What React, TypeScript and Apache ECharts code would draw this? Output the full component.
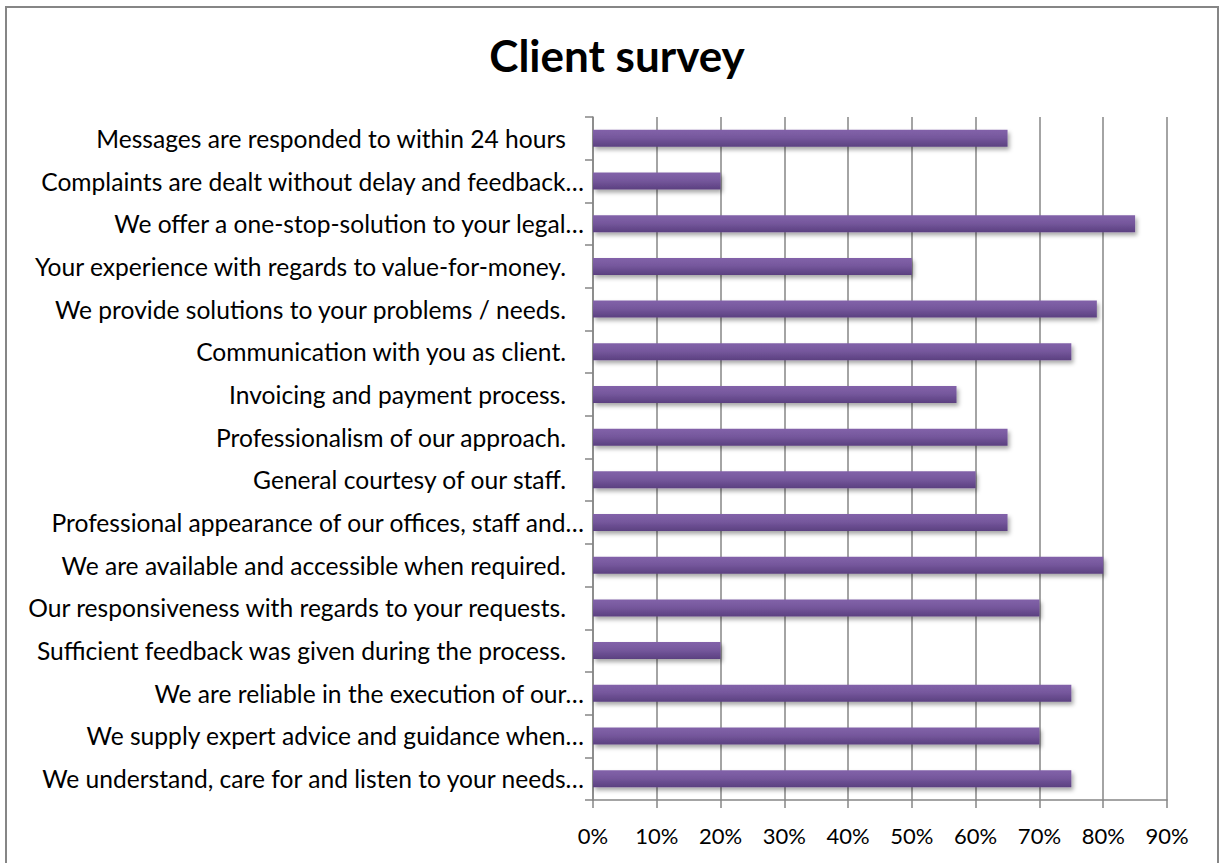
import React, { useEffect, useRef } from "react";
import * as echarts from "echarts";

const categories: string[] = [
  "Messages are responded to within 24 hours",
  "Complaints are dealt without delay and feedback…",
  "We offer a one-stop-solution to your legal…",
  "Your experience with regards to value-for-money.",
  "We provide solutions to your problems / needs.",
  "Communication with you as client.",
  "Invoicing and payment process.",
  "Professionalism of our approach.",
  "General courtesy of our staff.",
  "Professional appearance of our offices, staff and…",
  "We are available and accessible when required.",
  "Our responsiveness with regards to your requests.",
  "Sufficient feedback was given during the process.",
  "We are reliable in the execution of our…",
  "We supply expert advice and guidance when…",
  "We understand, care for and listen to your needs…",
];

const values: number[] = [65, 20, 85, 50, 79, 75, 57, 65, 60, 65, 80, 70, 20, 75, 70, 75];

const xTicks = { min: 0, max: 90, interval: 10 };

const FONT = "Lato, 'Open Sans', sans-serif";
const LABEL_SIZE = 24.6;

export default function App() {
  const ref = useRef<HTMLDivElement>(null);
  useEffect(() => {
    if (!ref.current) return;
    const chart = echarts.init(ref.current, undefined, { renderer: "svg" });
    chart.setOption({
      animation: false,
      backgroundColor: "#ffffff",
      title: {
        text: "Client survey",
        left: 612,
        top: 28,
        textAlign: "center",
        textStyle: { fontFamily: FONT, fontWeight: "bold", fontSize: 44, color: "#000" },
      },
      graphic: [
        {
          type: "rect",
          shape: { x: 6, y: 7, width: 1212, height: 880 },
          style: { fill: "none", stroke: "#868686", lineWidth: 2 },
          silent: true,
        },
      ],
      grid: { left: 593, right: 54, top: 117, bottom: 63, containLabel: false },
      xAxis: {
        type: "value",
        min: xTicks.min,
        max: xTicks.max,
        interval: xTicks.interval,
        axisLine: { show: true, lineStyle: { color: "#868686", width: 1.5 } },
        axisTick: { show: true, length: 8, lineStyle: { color: "#868686", width: 1.5 } },
        splitLine: { show: true, lineStyle: { color: "#868686", width: 1.5 } },
        axisLabel: {
          formatter: (v: number) => `${Math.round(v)}%`,
          fontFamily: FONT,
          fontSize: 22,
          color: "#000",
          margin: 24,
        },
      },
      yAxis: {
        type: "category",
        inverse: true,
        data: categories,
        axisLine: { show: true, lineStyle: { color: "#868686", width: 1.5 } },
        axisTick: { show: true, length: 8, interval: 0, lineStyle: { color: "#868686", width: 1.5 } },
        axisLabel: {
          interval: 0,
          margin: 9,
          fontFamily: FONT,
          fontSize: LABEL_SIZE,
          color: "#000",
          formatter: (v: string) => (v.endsWith("…") ? v : `{p|${v}}`),
          rich: {
            p: { fontFamily: FONT, fontSize: LABEL_SIZE, color: "#000", padding: [0, 18, 0, 0] },
          },
        },
      },
      series: [
        {
          type: "bar",
          data: values,
          barWidth: 17,
          itemStyle: {
            color: new echarts.graphic.LinearGradient(0, 0, 0, 1, [
              { offset: 0, color: "#8262a9" },
              { offset: 0.45, color: "#76589d" },
              { offset: 1, color: "#5b4080" },
            ]),
            shadowColor: "rgba(0,0,0,0.35)",
            shadowBlur: 4,
            shadowOffsetX: 2,
            shadowOffsetY: 3,
          },
        },
      ],
    });
    return () => chart.dispose();
  }, []);
  return (
    <div
      ref={ref}
      style={{ position: "absolute", left: 0, top: 0, width: 1221, height: 863 }}
    />
  );
}
